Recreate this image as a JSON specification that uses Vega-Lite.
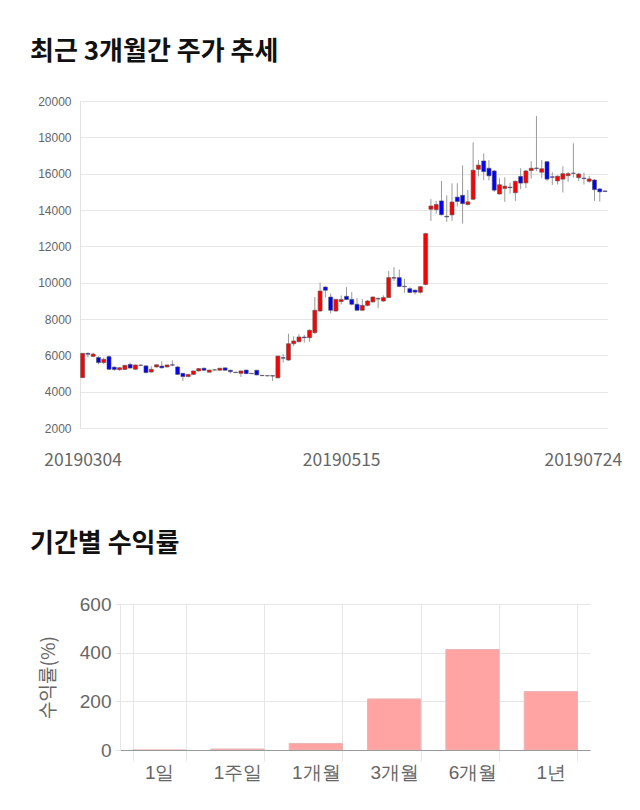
{
  "$schema": "https://vega.github.io/schema/vega-lite/v6.json",
  "background": "white",
  "padding": {"left": 30, "top": 39, "right": 0, "bottom": 0},
  "spacing": 62,
  "columns": 1,
  "config": {"view": {"stroke": null}, "font": "Noto Sans CJK KR"},
  "concat": [
    {
      "width": 490,
      "height": 327,
      "title": {"text": "최근 3개월간 주가 추세", "anchor": "start", "frame": "group", "dx": -90, "fontSize": 26, "fontWeight": "bold", "font": "Noto Sans CJK KR", "color": "#111", "offset": 30},
      "data": {"values": [
        {"date":"20190304","o":4770,"h":6110,"l":4770,"c":6110},
        {"date":"20190305","o":6110,"h":6150,"l":5880,"c":6060},
        {"date":"20190306","o":5940,"h":6150,"l":5900,"c":6070},
        {"date":"20190307","o":5880,"h":5950,"l":5500,"c":5600},
        {"date":"20190308","o":5600,"h":5880,"l":5520,"c":5780},
        {"date":"20190311","o":5930,"h":6000,"l":5200,"c":5230},
        {"date":"20190312","o":5350,"h":5400,"l":5150,"c":5220},
        {"date":"20190313","o":5210,"h":5350,"l":5150,"c":5320},
        {"date":"20190314","o":5220,"h":5470,"l":5200,"c":5450},
        {"date":"20190315","o":5500,"h":5600,"l":5280,"c":5300},
        {"date":"20190318","o":5230,"h":5480,"l":5220,"c":5470},
        {"date":"20190319","o":5460,"h":5500,"l":5420,"c":5450},
        {"date":"20190320","o":5420,"h":5450,"l":5000,"c":5050},
        {"date":"20190321","o":5080,"h":5400,"l":5050,"c":5230},
        {"date":"20190322","o":5360,"h":5500,"l":5330,"c":5480},
        {"date":"20190325","o":5410,"h":5680,"l":5280,"c":5310},
        {"date":"20190326","o":5360,"h":5480,"l":5330,"c":5470},
        {"date":"20190327","o":5480,"h":5720,"l":5400,"c":5460},
        {"date":"20190328","o":5360,"h":5420,"l":4920,"c":4950},
        {"date":"20190329","o":5010,"h":5030,"l":4590,"c":4830},
        {"date":"20190401","o":4830,"h":4960,"l":4800,"c":4950},
        {"date":"20190402","o":4950,"h":5150,"l":4930,"c":5140},
        {"date":"20190403","o":5140,"h":5300,"l":5120,"c":5270},
        {"date":"20190404","o":5290,"h":5320,"l":5150,"c":5180},
        {"date":"20190405","o":5070,"h":5210,"l":5050,"c":5190},
        {"date":"20190408","o":5200,"h":5230,"l":5170,"c":5190},
        {"date":"20190409","o":5180,"h":5310,"l":5160,"c":5290},
        {"date":"20190411","o":5310,"h":5330,"l":5160,"c":5180},
        {"date":"20190412","o":5180,"h":5200,"l":5000,"c":5100},
        {"date":"20190415","o":5070,"h":5090,"l":5030,"c":5050},
        {"date":"20190416","o":5010,"h":5150,"l":4810,"c":5140},
        {"date":"20190417","o":5190,"h":5200,"l":4980,"c":4990},
        {"date":"20190418","o":5010,"h":5030,"l":4970,"c":4990},
        {"date":"20190419","o":5180,"h":5200,"l":4900,"c":4920},
        {"date":"20190422","o":4900,"h":4920,"l":4860,"c":4880},
        {"date":"20190423","o":4880,"h":4900,"l":4850,"c":4870},
        {"date":"20190424","o":4880,"h":4900,"l":4590,"c":4860},
        {"date":"20190425","o":4760,"h":5960,"l":4740,"c":5960},
        {"date":"20190426","o":5870,"h":6070,"l":5600,"c":5840},
        {"date":"20190429","o":5740,"h":7190,"l":5700,"c":6640},
        {"date":"20190430","o":6640,"h":7050,"l":6500,"c":6790},
        {"date":"20190502","o":6750,"h":7170,"l":6720,"c":7010},
        {"date":"20190503","o":7010,"h":7130,"l":6700,"c":6970},
        {"date":"20190507","o":6970,"h":7420,"l":6750,"c":7380},
        {"date":"20190508","o":7250,"h":9210,"l":7180,"c":8480},
        {"date":"20190509","o":8440,"h":10000,"l":8400,"c":9540},
        {"date":"20190510","o":9760,"h":9800,"l":9180,"c":9580},
        {"date":"20190513","o":9210,"h":9400,"l":8300,"c":8480},
        {"date":"20190514","o":8440,"h":9100,"l":8400,"c":9080},
        {"date":"20190515","o":8960,"h":9300,"l":8800,"c":9070},
        {"date":"20190516","o":9250,"h":9750,"l":9050,"c":9070},
        {"date":"20190517","o":9080,"h":9490,"l":8750,"c":8810},
        {"date":"20190520","o":8810,"h":9150,"l":8450,"c":8480},
        {"date":"20190521","o":8480,"h":9100,"l":8450,"c":8750},
        {"date":"20190522","o":8750,"h":9050,"l":8700,"c":8990},
        {"date":"20190523","o":8940,"h":9250,"l":8900,"c":9210},
        {"date":"20190524","o":9120,"h":9200,"l":8600,"c":9100},
        {"date":"20190527","o":8990,"h":9300,"l":8950,"c":9180},
        {"date":"20190528","o":9180,"h":10640,"l":9150,"c":10280},
        {"date":"20190529","o":10280,"h":10860,"l":10100,"c":10250},
        {"date":"20190530","o":10280,"h":10720,"l":9750,"c":9790},
        {"date":"20190531","o":9800,"h":10200,"l":9450,"c":9780},
        {"date":"20190603","o":9670,"h":9750,"l":9420,"c":9460},
        {"date":"20190604","o":9590,"h":9620,"l":9350,"c":9480},
        {"date":"20190605","o":9470,"h":9800,"l":9400,"c":9780},
        {"date":"20190607","o":9900,"h":12750,"l":9850,"c":12700},
        {"date":"20190610","o":14040,"h":14600,"l":13400,"c":14220},
        {"date":"20190611","o":14020,"h":14500,"l":13800,"c":14300},
        {"date":"20190612","o":14500,"h":15600,"l":13700,"c":13740},
        {"date":"20190613","o":13650,"h":14810,"l":13350,"c":13620},
        {"date":"20190614","o":13730,"h":15470,"l":13400,"c":14440},
        {"date":"20190617","o":14710,"h":15470,"l":14200,"c":14470},
        {"date":"20190618","o":14810,"h":16450,"l":13250,"c":14350},
        {"date":"20190619","o":14300,"h":15100,"l":14250,"c":14450},
        {"date":"20190620","o":14590,"h":17720,"l":14550,"c":16190},
        {"date":"20190621","o":16240,"h":16750,"l":15850,"c":16470},
        {"date":"20190624","o":16700,"h":17120,"l":15640,"c":16110},
        {"date":"20190625","o":16300,"h":16750,"l":15630,"c":15880},
        {"date":"20190626","o":16150,"h":16200,"l":15000,"c":15090},
        {"date":"20190627","o":14880,"h":15750,"l":14850,"c":15390},
        {"date":"20190628","o":15190,"h":15800,"l":14450,"c":15310},
        {"date":"20190701","o":15260,"h":15500,"l":14900,"c":15230},
        {"date":"20190702","o":14950,"h":15620,"l":14500,"c":15580},
        {"date":"20190703","o":15850,"h":16300,"l":15150,"c":15480},
        {"date":"20190704","o":15490,"h":16200,"l":15200,"c":16150},
        {"date":"20190705","o":16170,"h":16680,"l":15730,"c":16300},
        {"date":"20190708","o":16310,"h":19170,"l":16150,"c":16290},
        {"date":"20190709","o":16080,"h":16750,"l":15750,"c":16270},
        {"date":"20190710","o":16660,"h":16700,"l":15600,"c":15700},
        {"date":"20190711","o":15830,"h":16080,"l":15380,"c":15800},
        {"date":"20190712","o":15600,"h":15900,"l":15400,"c":15860},
        {"date":"20190715","o":15700,"h":16400,"l":14960,"c":16000},
        {"date":"20190716","o":15890,"h":16100,"l":15550,"c":16000},
        {"date":"20190717","o":16030,"h":17670,"l":15780,"c":16020},
        {"date":"20190718","o":15780,"h":16050,"l":15600,"c":15980},
        {"date":"20190719","o":15760,"h":16060,"l":15400,"c":15730},
        {"date":"20190722","o":15580,"h":15880,"l":15500,"c":15710},
        {"date":"20190723","o":15650,"h":15700,"l":14500,"c":15120},
        {"date":"20190724","o":15160,"h":15200,"l":14460,"c":15000},
        {"date":"20190725","o":15050,"h":15080,"l":14980,"c":15020}
      ]},
      "encoding": {
        "x": {
          "field": "date", "type": "ordinal", "sort": null,
          "scale": {"type": "point", "range": [-40, 487.7]},
          "axis": {
            "values": ["20190304", "20190515", "20190724"],
            "title": null, "tickSize": 0, "domain": false, "grid": false,
            "labelAngle": 0, "labelFontSize": 17.5, "labelColor": "#666",
            "labelFont": "Noto Sans CJK KR", "labelPadding": 23, "labelOverlap": false,
            "labelOffset": {"condition": {"test": "datum.value == '20190724'", "value": -17}, "value": 0}
          }
        }
      },
      "layer": [
        {
          "mark": {"type": "rule", "color": "#9a9a9a", "strokeWidth": 1},
          "encoding": {
            "y": {
              "field": "l", "type": "quantitative",
              "scale": {"domain": [2000, 20000]},
              "axis": {
                "values": [2000, 4000, 6000, 8000, 10000, 12000, 14000, 16000, 18000, 20000],
                "format": "d", "title": null, "grid": true, "gridColor": "#e6e6e6",
                "tickSize": 0, "labelPadding": 9, "labelFontSize": 12, "labelColor": "#666",
                "labelFont": "Liberation Sans", "labelOverlap": false, "domain": true, "domainColor": "#e0e0e0",
                "offset": 40
              }
            },
            "y2": {"field": "h"}
          }
        },
        {
          "mark": {"type": "bar", "width": 4, "stroke": "#555", "strokeWidth": 0.6},
          "encoding": {
            "y": {
              "field": "o", "type": "quantitative",
              "axis": {
                "values": [2000, 4000, 6000, 8000, 10000, 12000, 14000, 16000, 18000, 20000],
                "format": "d", "title": null, "grid": true, "gridColor": "#e6e6e6",
                "tickSize": 0, "labelPadding": 9, "labelFontSize": 12, "labelColor": "#666",
                "labelFont": "Liberation Sans", "labelOverlap": false, "domain": true, "domainColor": "#e0e0e0",
                "offset": 40
              }
            },
            "y2": {"field": "c"},
            "color": {"condition": {"test": "datum.c > datum.o", "value": "#ff0000"}, "value": "#0000ff"}
          }
        }
      ]
    },
    {
      "width": 470,
      "height": 146,
      "title": {"text": "기간별 수익률", "anchor": "start", "frame": "group", "dx": -90, "fontSize": 26, "fontWeight": "bold", "font": "Noto Sans CJK KR", "color": "#111", "offset": 38},
      "data": {"values": [
        {"period": "1일", "r": -0.8},
        {"period": "1주일", "r": 4},
        {"period": "1개월", "r": 27},
        {"period": "3개월", "r": 210},
        {"period": "6개월", "r": 413},
        {"period": "1년", "r": 240}
      ]},
      "mark": {"type": "bar", "fill": "#ffa3a3", "stroke": "#e9b5b5", "strokeWidth": 1, "clip": true},
      "encoding": {
        "x": {
          "field": "period", "type": "nominal", "sort": null,
          "scale": {"paddingInner": 0.32, "paddingOuter": 0.16},
          "axis": {
            "title": null, "labelAngle": 0, "tickBand": "extent", "grid": true,
            "gridColor": "#e6e6e6", "tickColor": "#e6e6e6", "tickSize": 11,
            "domainColor": "#999", "labelFontSize": 19, "labelColor": "#666",
            "labelPadding": 2, "labelFont": "Liberation Sans"
          }
        },
        "y": {
          "field": "r", "type": "quantitative",
          "scale": {"domain": [0, 600]},
          "axis": {
            "values": [0, 200, 400, 600], "title": "수익률(%)",
            "titleFont": "Noto Sans CJK KR", "titleFontSize": 19, "titleFontWeight": "normal",
            "titleColor": "#666", "titlePadding": 21,
            "labelFontSize": 19, "labelColor": "#666", "labelFont": "Liberation Sans",
            "gridColor": "#e6e6e6", "tickColor": "#e6e6e6", "tickSize": 5,
            "labelPadding": 4, "domainColor": "#e6e6e6"
          }
        }
      }
    }
  ]
}
